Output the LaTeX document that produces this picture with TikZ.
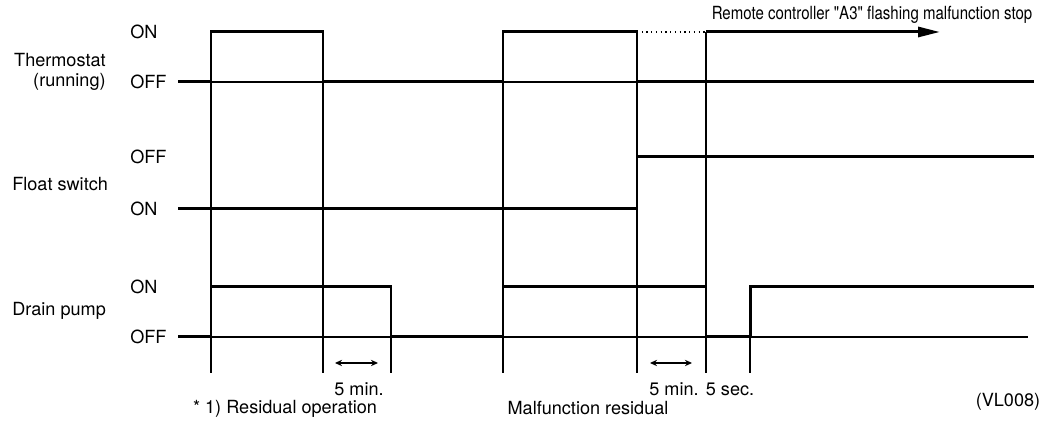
\documentclass[tikz,border=0pt]{standalone}
\usepackage{fontspec}
\setmainfont{TeX Gyre Heros}
\usepackage{tikz}
\usetikzlibrary{arrows.meta,positioning}
\tikzset{
  senal/.style={line width=1.7pt,line join=miter},
  guia/.style={line width=0.7pt},
  etq/.style={font=\fontsize{10.3}{11.4}\selectfont,inner sep=0pt},
  cota/.style={{Stealth[length=4pt,width=3.6pt]}-{Stealth[length=4pt,width=3.6pt]},line width=0.8pt}
}
\newcommand{\recto}[1]{{\addfontfeature{Ligatures=TeXOff}#1}}

\begin{document}
\begin{tikzpicture}
\useasboundingbox (0,0) rectangle (20.92,8.44);
% lineas guia verticales
\foreach \x in {4.22,6.46,10.06,12.74,14.12} \draw[guia] (\x,7.80) -- (\x,0.98);
\foreach \x in {7.82,15.00} \draw[guia] (\x,2.70) -- (\x,0.98);
% niveles OFF de base
\draw[guia] (3.56,6.80) -- (20.68,6.80);
\draw[guia] (3.56,1.70) -- (20.56,1.70);
% termostato
\draw[senal] (3.56,6.80) -- (4.22,6.80) -- (4.22,7.80) -- (6.46,7.80) -- (6.46,6.80) -- (10.06,6.80)
 -- (10.06,7.80) -- (12.74,7.80) -- (12.74,6.80) -- (20.68,6.80);
\draw[guia,dotted] (12.74,7.80) -- (14.12,7.80);
\draw[senal,-{Triangle[length=0.44cm,width=0.2cm]}] (14.12,7.80) -- (18.80,7.80);
% interruptor de flotador
\draw[senal] (3.56,4.26) -- (12.74,4.26) -- (12.74,5.30) -- (20.68,5.30);
% bomba de drenaje
\draw[senal] (3.56,1.70) -- (4.22,1.70) -- (4.22,2.70) -- (7.82,2.70) -- (7.82,1.70) -- (10.06,1.70)
 -- (10.06,2.70) -- (14.12,2.70) -- (14.12,1.70) -- (15.00,1.70) -- (15.00,2.70) -- (20.68,2.70);
% tiempos
\draw[cota] (6.70,1.18) -- (7.56,1.18);
\draw[cota] (13.00,1.18) -- (13.84,1.18);
\node[etq] (t5a) at (7.18,0.66) {5 min.};
\node[etq] (t5b) at (13.48,0.66) {5 min.};
\node[etq] (t5s) at (14.60,0.66) {5 sec.};
\node[etq] (res) at (5.70,0.27) {* 1) Residual operation};
\node[etq] (mal) at (11.76,0.27) {Malfunction residual};
\node[etq] (vl) at (20.16,0.40) {(VL008)};
\node[etq,xscale=0.83] (rc) at (17.44,8.14) {Remote controller \recto{"A3"} flashing malfunction stop};
% nombres de las senales
\node[etq,align=right,anchor=east] (ter) at (2.12,7.00) {Thermostat\\(running)};
\node[etq,anchor=west] (flo) at (0.24,4.76) {Float switch};
\node[etq,anchor=west] (bom) at (0.24,2.22) {Drain pump};
\foreach \y/\t [count=\i] in {7.80/ON,6.80/OFF,5.30/OFF,4.26/ON,2.70/ON,1.70/OFF}
  \node[etq,anchor=west] (niv\i) at (2.60,\y) {\t};
\end{tikzpicture}
\end{document}
